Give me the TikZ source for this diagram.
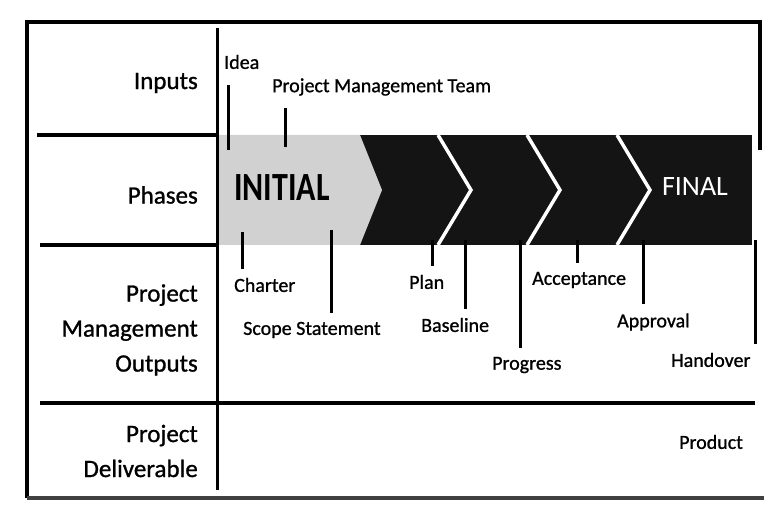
\documentclass[tikz,border=0pt]{standalone}
\usepackage{fontspec}
\setmainfont[FakeBold=1]{Carlito}
\newfontfamily\narrowfont[FakeStretch=0.8]{Carlito}
\newfontfamily\thinfont{Carlito}

\begin{document}
\begin{tikzpicture}[x=1pt,y=-1pt,
	rule/.style={line width=4pt},
	tick/.style={line width=3pt,shorten >=9pt},
	rowlabel/.style={anchor=east,align=right,inner sep=0pt,font=\fontsize{25}{35}\selectfont},
	annot/.style={anchor=west,inner sep=0pt,font=\fontsize{20}{24}\selectfont},
	sep/.style={white,line width=3.5pt}]
	\useasboundingbox (0,0) rectangle (764,508);

	% phase band
	\fill[black!92] (218,135) rectangle (752,245);
	\fill[black!18] (218,135) -- (360,135) -- (382,190) -- (360,245) -- (218,245) -- cycle;
	\foreach \x in {438,527,617}
		\draw[sep] (\x,135) -- (\x+33,190) -- (\x,245);
	\node[font=\fontsize{40}{40}\selectfont\narrowfont\bfseries] (initial) at (282,188) {INITIAL};
	\node[white,font=\fontsize{28}{28}\selectfont\thinfont] (final) at (695,187) {FINAL};

	% frame
	\draw[rule] (25,22) -- (760,22) -- (760,150);
	\draw[rule] (27,20) -- (27,498);
	\draw[rule,black!75] (27,498) -- (764,498);

	% rows and column
	\draw[rule] (37,135) -- (218,135);
	\draw[rule] (40,245) -- (218,245);
	\draw[rule] (40,403) -- (755,403);
	\draw[line width=3pt] (217,28) -- (217,490);

	% row labels
	\node[rowlabel] (inputs) at (198,83) {Inputs};
	\node[rowlabel] (phases) at (198,195) {Phases};
	\node[rowlabel] (outputs) at (198,330) {Project\\Management\\Outputs};
	\node[rowlabel] (deliverable) at (198,451) {Project\\Deliverable};

	% inputs
	\node[annot] (idea) at (224,62) {Idea};
	\node[annot] (team) at (272,87) {Project Management Team};
	\coordinate (idea-end) at (228,150);
	\coordinate (team-end) at (285,147);
	\draw[tick,shorten >=0pt,shorten <=16pt] (idea.south -| idea-end) -- (idea-end);
	\draw[tick,shorten >=0pt,shorten <=12pt] (team.south -| team-end) -- (team-end);

	% outputs
	\foreach \name/\txt/\lx/\ly/\tx/\ty in {charter/Charter/234/285/242/232,
			scope/Scope Statement/243/330/331/230, plan/Plan/409/282/432/240,
			baseline/Baseline/421/325/465/240, progress/Progress/492/365/520/240,
			acceptance/Acceptance/532/280/577/240, approval/Approval/617/322/643/240,
			handover/Handover/671/360/755/240} {
		\node[annot] (\name) at (\lx,\ly) {\txt};
		\coordinate (\name-top) at (\tx,\ty);
		\draw[tick] (\name-top) -- (\name.north -| \name-top);
	}

	% deliverable
	\node[annot] (product) at (679,442) {Product};
\end{tikzpicture}
\end{document}
